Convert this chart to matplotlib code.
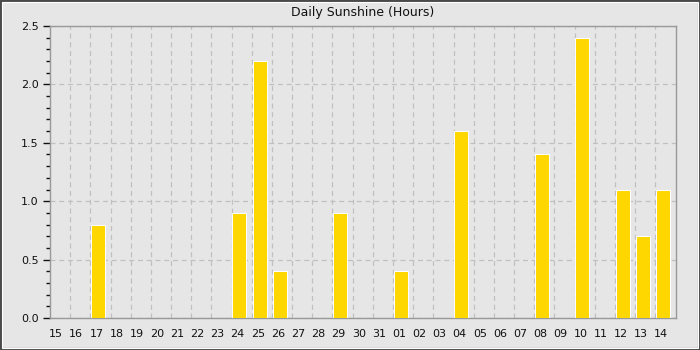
import matplotlib
matplotlib.use("Agg")
import matplotlib.pyplot as plt
from matplotlib.patches import Rectangle
from matplotlib.ticker import MultipleLocator, FixedLocator

days = ["15","16","17","18","19","20","21","22","23","24","25","26","27","28","29","30","31",
        "01","02","03","04","05","06","07","08","09","10","11","12","13","14"]
sunshine = [0,0,0.8,0,0,0,0,0,0,0.9,2.2,0.4,0,0,0.9,0,0,
            0.4,0,0,1.6,0,0,0,1.4,0,2.4,0,1.1,0.7,1.1]

bg = "#e6e6e6"
fig = plt.figure(figsize=(7, 3.5), dpi=100, facecolor=bg)
ax = fig.add_axes([50/700, 1-318/350, 625.5/700, 292/350])
ax.set_facecolor(bg)

n = len(days)
x = list(range(n))
ax.bar([i - 0.5 + 0.04 for i in x], sunshine, width=0.69, align="edge",
       color="#ffd700", edgecolor="white", linewidth=0.7, zorder=3)

ax.set_xlim(-0.5, n - 0.5)
ax.set_ylim(0, 2.5)
ax.set_xticks([i - 0.2 for i in x])
ax.set_xticklabels(days)
ax.tick_params(axis="x", length=0, labelsize=8, pad=8, colors="#111111")
ax.xaxis.set_minor_locator(FixedLocator([i + 0.5 for i in range(n - 1)]))
ax.tick_params(axis="x", which="minor", length=0)
ax.yaxis.set_major_locator(MultipleLocator(0.5))
ax.yaxis.set_minor_locator(MultipleLocator(0.1))
ax.tick_params(axis="y", which="major", length=5, width=1, labelsize=8, colors="#111111", pad=3)
ax.tick_params(axis="y", which="minor", length=3, width=1, colors="#111111")
ax.yaxis.set_major_formatter(matplotlib.ticker.FormatStrFormatter("%.1f"))

ax.grid(True, axis="y", which="major", linestyle=(0, (4, 3)), color="#c0c0c0", linewidth=0.9, zorder=1)
ax.grid(True, axis="x", which="minor", linestyle=(0, (4, 3)), color="#c0c0c0", linewidth=0.9, zorder=1)
ax.grid(False, axis="x", which="major")
for s in ax.spines.values():
    s.set_color("#999999")
    s.set_linewidth(1)

ax.set_title("Daily Sunshine (Hours)", fontsize=9, color="#111111", pad=7)

fig.patches.append(Rectangle((0, 0), 1, 1, transform=fig.transFigure, fill=False,
                             edgecolor="#4a4a4a", linewidth=3, zorder=10))
fig.patches.append(Rectangle((2.3/700, 2.3/350), 1 - 4.6/700, 1 - 4.6/350, transform=fig.transFigure,
                             fill=False, edgecolor="white", linewidth=0.8, zorder=10))

fig.savefig("out.png", dpi=100, facecolor=bg)
